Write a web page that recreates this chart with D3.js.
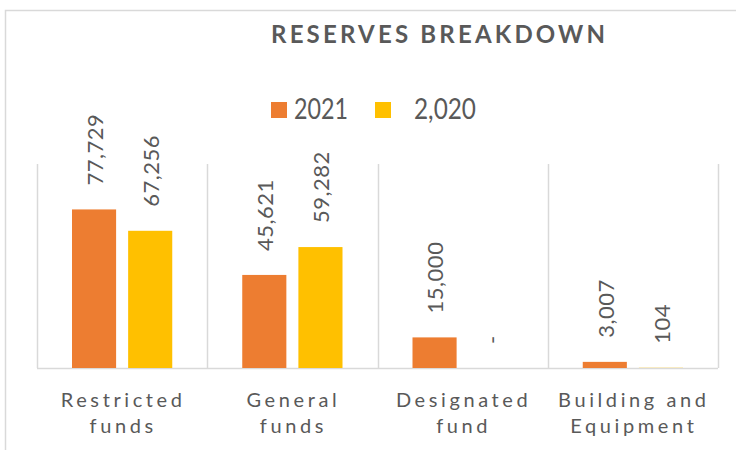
<!DOCTYPE html>
<html>
<head>
<meta charset="utf-8">
<script src="https://cdn.jsdelivr.net/npm/d3@7"></script>
<style>
  body { margin: 0; background: #fff; }
  svg text { font-family: Lato, "Open Sans", sans-serif; fill: #595959; }
</style>
</head>
<body>
<svg id="chart" width="736" height="450"></svg>
<script>
// chart data
const categories = ['Restricted funds', 'General funds', 'Designated fund', 'Building and Equipment'];
const seriesNames = ['2021', '2,020'];
const values2021 = [77729, 45621, 15000, 3007];
const values2020 = [67256, 59282, 0, 104];
const seriesColors = ['#ED7D31', '#FFC000'];

const svg = d3.select('#chart');

// outer chart frame
svg.append('rect')
    .attr('x', 5.5).attr('y', 10.5)
    .attr('width', 900).attr('height', 600)
    .attr('fill', 'none')
    .attr('stroke', '#D9D9D9')
    .attr('stroke-width', 1.5);

const plot = {left: 37, right: 718, top: 164, bottom: 368};

const x0 = d3.scaleBand()
    .domain(categories)
    .range([plot.left, plot.right])
    .padding(0);

const x1 = d3.scaleBand()
    .domain(seriesNames)
    .range([35, x0.bandwidth() - 35])
    .paddingInner(12 / 56);

const y = d3.scaleLinear()
    .domain([0, 100000])
    .range([plot.bottom, plot.top]);

const fmt = d3.format(',');

// vertical category separators
const seps = categories.map(c => x0(c)).concat([plot.right]);
svg.append('g')
    .selectAll('line')
    .data(seps)
    .join('line')
    .attr('x1', d => Math.round(d) + 0.5)
    .attr('x2', d => Math.round(d) + 0.5)
    .attr('y1', plot.top)
    .attr('y2', plot.bottom)
    .attr('stroke', '#D9D9D9')
    .attr('stroke-width', 1.5);

// baseline
svg.append('line')
    .attr('x1', plot.left).attr('x2', plot.right)
    .attr('y1', plot.bottom + 0.5).attr('y2', plot.bottom + 0.5)
    .attr('stroke', '#D9D9D9')
    .attr('stroke-width', 1.5);

const rows = categories.map((c, i) => ({
    category: c,
    items: [
        {name: seriesNames[0], value: values2021[i], color: seriesColors[0]},
        {name: seriesNames[1], value: values2020[i], color: seriesColors[1]}
    ]
}));

const groups = svg.append('g')
    .selectAll('g')
    .data(rows)
    .join('g')
    .attr('transform', d => `translate(${x0(d.category)},0)`);

groups.selectAll('rect')
    .data(d => d.items)
    .join('rect')
    .attr('x', d => x1(d.name))
    .attr('y', d => y(d.value))
    .attr('width', x1.bandwidth())
    .attr('height', d => plot.bottom - y(d.value))
    .attr('fill', d => d.color);

// rotated value labels
groups.selectAll('text.val')
    .data(d => d.items)
    .join('text')
    .attr('class', 'val')
    .attr('transform', d => `translate(${x1(d.name) + x1.bandwidth() / 2 + 1},${y(d.value) - 24}) rotate(-90)`)
    .attr('dy', '0.36em')
    .attr('font-size', 22)
    .attr('letter-spacing', 0.5)
    .text(d => d.value === 0 ? '-' : fmt(d.value));

// category labels (two lines)
const catLabels = svg.append('g')
    .selectAll('text')
    .data(categories)
    .join('text')
    .attr('text-anchor', 'middle')
    .attr('font-size', 20)
    .attr('letter-spacing', 3.6);

catLabels.each(function (c) {
    const cut = c.lastIndexOf(' ');
    const lines = [c.slice(0, cut), c.slice(cut + 1)];
    d3.select(this).selectAll('tspan')
        .data(lines)
        .join('tspan')
        .attr('x', x0(c) + x0.bandwidth() / 2 + 1)
        .attr('y', (d, i) => 407 + i * 26)
        .text(d => d);
});

// title, spaced out to span the same width as the original
const titleText = 'RESERVES BREAKDOWN';
const title = svg.append('text')
    .attr('x', 271)
    .attr('y', 43)
    .attr('font-size', 24)
    .attr('font-weight', 'bold')
    .text(titleText);
const natural = title.node().getComputedTextLength();
title.attr('letter-spacing', Math.max(0, (334 - natural) / (titleText.length - 1)));

// legend
const legendX = [271, 375];
const legendTextX = [294, 414];
const legendTextW = [54, 62];
const legend = svg.append('g')
    .selectAll('g')
    .data(seriesNames)
    .join('g');

legend.append('rect')
    .attr('x', (d, i) => legendX[i])
    .attr('y', 102)
    .attr('width', 16)
    .attr('height', 16)
    .attr('fill', (d, i) => seriesColors[i]);

legend.append('text')
    .attr('x', (d, i) => legendTextX[i])
    .attr('y', 119)
    .attr('font-size', 28)
    .attr('textLength', (d, i) => legendTextW[i])
    .attr('lengthAdjust', 'spacingAndGlyphs')
    .text(d => d);
</script>
</body>
</html>
